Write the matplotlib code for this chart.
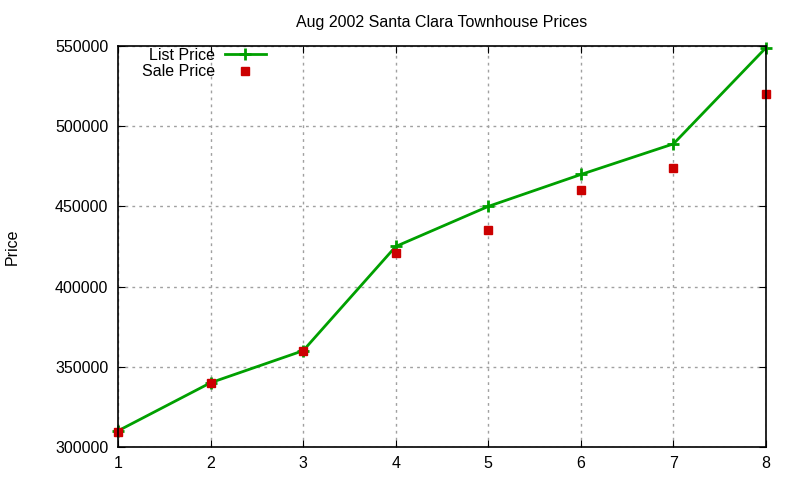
import numpy as np
import matplotlib.pyplot as plt

plt.rcParams['font.family'] = ['Liberation Sans', 'DejaVu Sans']

# data
houses = [1, 2, 3, 4, 5, 6, 7, 8]
list_price = [310000, 340000, 360000, 425000, 450000, 469900, 489000, 549000]
sale_price = [309000, 340000, 360000, 421000, 435000, 460000, 474000, 520000]

fig = plt.figure(figsize=(8, 4.8), dpi=100)
ax = fig.add_axes([0.1475, 0.069, 0.81, 0.835])

ax.plot(houses, list_price, color='#00a000', linewidth=2, marker='+',
        markersize=8, markeredgewidth=2, label='List Price', clip_on=False)
ax.plot(houses, sale_price, linestyle='none', color='#cc0000', marker='s',
        markersize=5.8, label='Sale Price', clip_on=False)

ax.set_xlim(1, 8)
ax.set_ylim(300000, 550000)
ax.set_xticks(houses)
ax.set_yticks(np.arange(300000, 550001, 50000))
ax.tick_params(direction='in', top=True, right=True, labelsize=11.5, length=5)
ax.tick_params(axis='y', pad=7)
ax.tick_params(axis='x', pad=6.5)
ax.grid(True, color='#a0a0a0', linestyle=(0, (2, 3)), linewidth=1)
for s in ax.spines.values():
    s.set_linewidth(1.2)

ax.set_title('Aug 2002 Santa Clara Townhouse Prices', fontsize=11.5, pad=14)
ax.set_ylabel('Price', fontsize=11.5, labelpad=25)

ax.legend(loc='upper left', bbox_to_anchor=(0.022, 1.02), markerfirst=False,
          frameon=False, fontsize=11.5, handlelength=2.6, borderaxespad=0.2,
          labelspacing=0.1, handletextpad=0.6)

fig.savefig('out.png', dpi=100)
